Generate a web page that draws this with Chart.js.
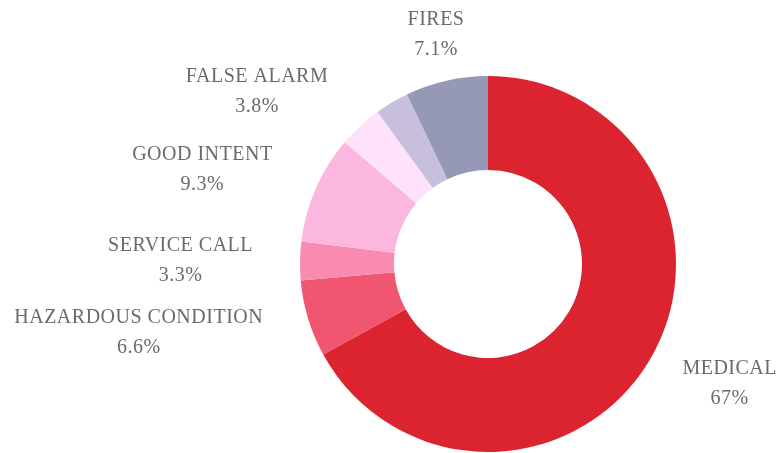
<!DOCTYPE html>
<html>
<head>
<meta charset="utf-8">
<script src="https://cdn.jsdelivr.net/npm/chart.js@4"></script>
<style>
  html, body { margin: 0; padding: 0; background: #fff; }
  #wrap { width: 781px; height: 453px; }
</style>
</head>
<body>
<div id="wrap"><canvas id="incidentChart"></canvas></div>
<script>
const categories = ["Medical", "Hazardous Condition", "Service Call", "Good Intent", "False Alarm", "Other", "Fires"];
const shares = [67, 6.6, 3.3, 9.3, 3.8, 2.9, 7.1];
const shareLabels = ["67%", "6.6%", "3.3%", "9.3%", "3.8%", "", "7.1%"];
const sliceColors = ["#dc2430", "#f0566f", "#f98bb0", "#fcb7de", "#fde2fa", "#c8bfdc", "#9599b6"];

// draws NAME / pct outside each slice, pushed to the side it sits on
const outsideLabels = {
    id: 'outsideLabels',
    afterDatasetsDraw(chart) {
        const ctx = chart.ctx;
        const meta = chart.getDatasetMeta(0);
        ctx.save();
        ctx.font = '20px "Liberation Serif", serif';
        ctx.letterSpacing = '0.5px';
        ctx.fillStyle = '#6a6a6a';
        ctx.textBaseline = 'middle';
        ctx.textAlign = 'center';
        meta.data.forEach((arc, i) => {
            if (!shareLabels[i]) return;
            const p = arc.getProps(['x', 'y', 'startAngle', 'endAngle', 'outerRadius'], true);
            const mid = (p.startAngle + p.endAngle) / 2;
            const r = p.outerRadius * 1.25;
            const vx = Math.cos(mid);
            const px = p.x + vx * r;
            const py = p.y + Math.sin(mid) * r;
            const lines = [categories[i].toUpperCase(), shareLabels[i]];
            const w = Math.max(...lines.map(l => ctx.measureText(l).width));
            let cx = px;
            if (vx > 0.3) cx = px + w / 2;
            else if (vx < -0.3) cx = px - w / 2;
            // keep it inside the canvas
            cx = Math.min(cx, chart.width - 4 - w / 2);
            cx = Math.max(cx, 4 + w / 2);
            ctx.fillText(lines[0], cx, py - 15);
            ctx.fillText(lines[1], cx, py + 15);
        });
        ctx.restore();
    }
};

new Chart(document.getElementById('incidentChart'), {
    type: 'doughnut',
    data: {
        labels: categories,
        datasets: [{
            data: shares,
            backgroundColor: sliceColors,
            borderWidth: 0
        }]
    },
    options: {
        responsive: true,
        maintainAspectRatio: false,
        animation: false,
        cutout: '50%',
        layout: {
            padding: { top: 76, bottom: 1, left: 300, right: 105 }
        },
        plugins: {
            legend: { display: false },
            tooltip: { enabled: false }
        }
    },
    plugins: [outsideLabels]
});
</script>
</body>
</html>
